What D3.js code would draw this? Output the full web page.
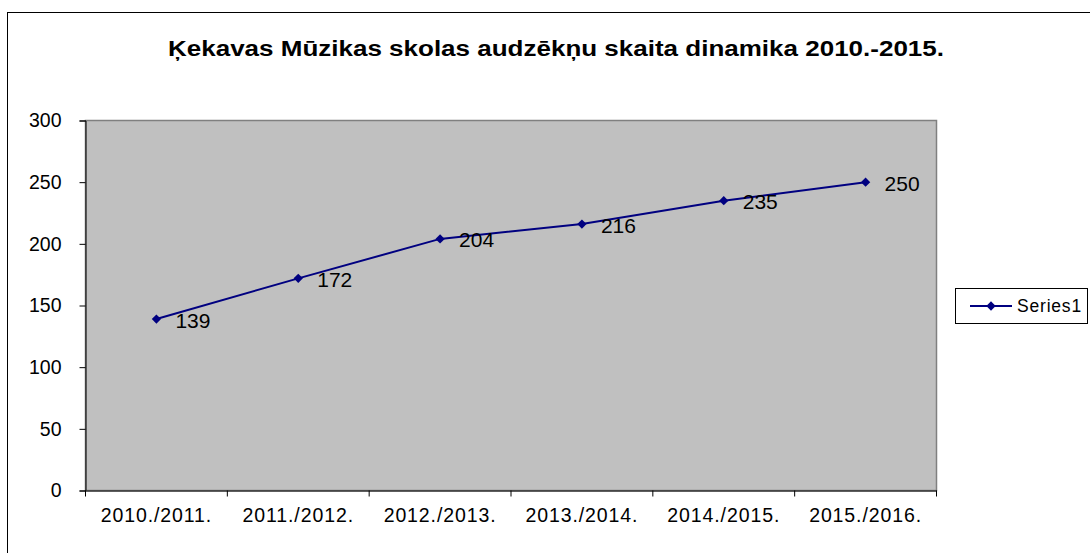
<!DOCTYPE html>
<html>
<head>
<meta charset="utf-8">
<script src="https://cdn.jsdelivr.net/npm/d3@7"></script>
<style>
  body { margin: 0; background: #fff; }
  text { font-family: "Liberation Sans", Arial, sans-serif; }
</style>
</head>
<body>
<svg id="chart" width="1090" height="553"></svg>
<script>
const years = ["2010./2011.", "2011./2012.", "2012./2013.", "2013./2014.", "2014./2015.", "2015./2016."];
const students = [139, 172, 204, 216, 235, 250];
const yTicks = [0, 50, 100, 150, 200, 250, 300];
const seriesName = "Series1";
const title = "Ķekavas Mūzikas skolas audzēkņu skaita dinamika 2010.-2015.";

const svg = d3.select("#chart");
const FONT = "'Liberation Sans', Arial, sans-serif";

// outer chart frame (runs off the right/bottom of the picture)
svg.append("rect")
  .attr("x", 7.5).attr("y", 12.5)
  .attr("width", 1100).attr("height", 560)
  .attr("fill", "#fff").attr("stroke", "#000").attr("stroke-width", 1);

const plot = { left: 85.5, top: 120.5, right: 936.5, bottom: 490.5 };

const x = d3.scaleBand().domain(years).range([plot.left, plot.right]);
const y = d3.scaleLinear().domain([0, 300]).range([plot.bottom, plot.top]);

svg.append("rect")
  .attr("x", plot.left).attr("y", plot.top)
  .attr("width", plot.right - plot.left).attr("height", plot.bottom - plot.top)
  .attr("fill", "#c0c0c0").attr("stroke", "#808080").attr("stroke-width", 1.5);

svg.append("text")
  .attr("x", 556).attr("y", 56)
  .attr("text-anchor", "middle")
  .attr("font-size", 22).attr("font-weight", "bold")
  .attr("textLength", 776).attr("lengthAdjust", "spacingAndGlyphs")
  .text(title);

// y axis
const yAxis = svg.append("g")
  .attr("transform", `translate(${plot.left},0)`)
  .call(d3.axisLeft(y).tickValues(yTicks).tickSize(6).tickPadding(18));
yAxis.select(".domain").attr("stroke", "#000");
yAxis.selectAll(".tick line").attr("stroke", "#000");
yAxis.selectAll("text").attr("font-size", 19.5).attr("fill", "#000")
  .attr("font-family", FONT);

// x axis with ticks on category boundaries
const xAxis = svg.append("g")
  .attr("transform", `translate(0,${plot.bottom})`)
  .call(d3.axisBottom(x).tickSize(0));
xAxis.select(".domain").attr("stroke", "#333").attr("stroke-width", 1.5);
xAxis.selectAll("text")
  .attr("y", 31).attr("dy", 0)
  .attr("font-size", 19.5).attr("fill", "#000")
  .attr("letter-spacing", 0.9)
  .attr("font-family", FONT);
xAxis.selectAll(".boundary")
  .data(years.map(d => x(d)).concat([x(years[years.length - 1]) + x.bandwidth()]))
  .join("line")
  .attr("x1", d => d).attr("x2", d => d)
  .attr("y1", 0).attr("y2", 6)
  .attr("stroke", "#000");

const cx = d => x(d) + x.bandwidth() / 2;

const line = d3.line()
  .x((d, i) => cx(years[i]))
  .y(d => y(d));

svg.append("path")
  .datum(students)
  .attr("d", line)
  .attr("fill", "none")
  .attr("stroke", "#000080")
  .attr("stroke-width", 2);

const diamond = d3.symbol().type(d3.symbolDiamond2).size(55);

svg.selectAll(".pt")
  .data(students)
  .join("path")
  .attr("transform", (d, i) => `translate(${cx(years[i])},${y(d)})`)
  .attr("d", diamond)
  .attr("fill", "#000080");

svg.selectAll(".lbl")
  .data(students)
  .join("text")
  .attr("x", (d, i) => cx(years[i]) + 19)
  .attr("y", d => y(d) + 8.5)
  .attr("font-size", 21)
  .attr("fill", "#000")
  .text(d => d);

// legend
const lg = svg.append("g");
lg.append("rect")
  .attr("x", 955.5).attr("y", 288.5).attr("width", 132).attr("height", 35)
  .attr("fill", "#fff").attr("stroke", "#000");
lg.append("line")
  .attr("x1", 970).attr("x2", 1012).attr("y1", 306).attr("y2", 306)
  .attr("stroke", "#000080").attr("stroke-width", 2);
lg.append("path")
  .attr("transform", "translate(991,306)")
  .attr("d", diamond)
  .attr("fill", "#000080");
lg.append("text")
  .attr("x", 1017).attr("y", 312)
  .attr("font-size", 17.5)
  .attr("letter-spacing", 0.8)
  .text(seriesName);
</script>
</body>
</html>
